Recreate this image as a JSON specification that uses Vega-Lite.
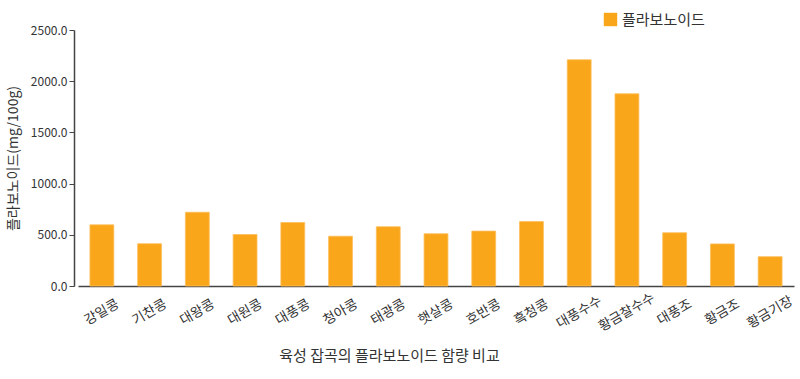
{
  "$schema": "https://vega.github.io/schema/vega-lite/v6.json",
  "width": 716,
  "height": 256,
  "autosize": "none",
  "padding": {"left": 78, "top": 30, "right": 6, "bottom": 93},
  "background": "white",
  "config": {
    "view": {"stroke": null},
    "font": "Noto Sans CJK KR"
  },
  "data": {
    "values": [
      {"name": "강일콩", "value": 597},
      {"name": "기찬콩", "value": 413},
      {"name": "대왕콩", "value": 720},
      {"name": "대원콩", "value": 503},
      {"name": "대풍콩", "value": 620},
      {"name": "청아콩", "value": 486},
      {"name": "태광콩", "value": 579},
      {"name": "햇살콩", "value": 510},
      {"name": "호반콩", "value": 536},
      {"name": "흑청콩", "value": 629},
      {"name": "대풍수수", "value": 2209},
      {"name": "황금찰수수", "value": 1877},
      {"name": "대풍조", "value": 520},
      {"name": "황금조", "value": 411},
      {"name": "황금기장", "value": 286}
    ]
  },
  "mark": {"type": "bar", "stroke": "#FDBE5A", "strokeWidth": 0.8},
  "encoding": {
    "x": {
      "field": "name",
      "type": "nominal",
      "sort": null,
      "scale": {"paddingInner": 0.5, "paddingOuter": 0.25},
      "axis": {
        "title": "육성 잡곡의 플라보노이드 함량 비교",
        "titleFontSize": 15,
        "titleFontWeight": "normal",
        "titleColor": "#333333",
        "titleX": 311,
        "titleY": 62,
        "titleAlign": "center",
        "labelAngle": -30,
        "labelAlign": "center",
        "labelBaseline": "middle",
        "labelFontSize": 13.5,
        "labelColor": "#333333",
        "labelPadding": 26,
        "ticks": false,
        "domainColor": "#444444",
        "domainWidth": 1.5
      }
    },
    "y": {
      "field": "value",
      "type": "quantitative",
      "scale": {"domain": [0, 2500], "nice": false},
      "axis": {
        "title": "플라보노이드(mg/100g)",
        "titleFontSize": 14,
        "titleFontWeight": "normal",
        "titleColor": "#333333",
        "titlePadding": 10,
        "offset": 4,
        "values": [0, 500, 1000, 1500, 2000, 2500],
        "format": ".1f",
        "labelFontSize": 12,
        "labelColor": "#333333",
        "tickColor": "#444444",
        "tickSize": 5,
        "domainColor": "#444444",
        "domainWidth": 1.5,
        "grid": false
      }
    },
    "color": {
      "datum": "플라보노이드",
      "scale": {"range": ["#FAA61A"]},
      "legend": {
        "title": null,
        "orient": "none",
        "legendX": 525,
        "legendY": -18,
        "symbolType": "square",
        "symbolSize": 180,
        "symbolStrokeWidth": 0,
        "labelFontSize": 15,
        "labelColor": "#333333"
      }
    }
  }
}
